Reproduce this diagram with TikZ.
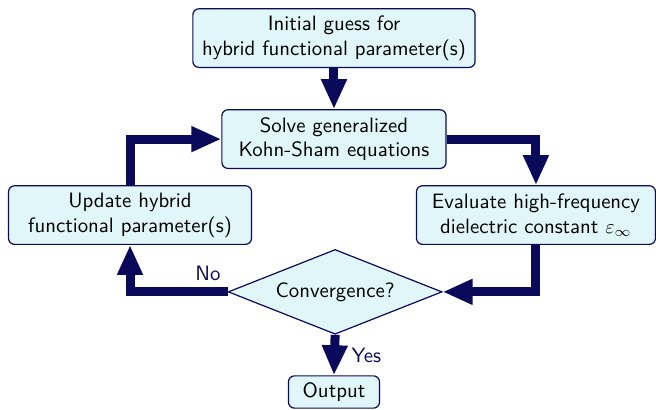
\documentclass[tikz,border=0pt]{standalone}
\usepackage{tikz}
\usetikzlibrary{shapes,arrows.meta,positioning}

\definecolor{flownavy}{RGB}{10,10,90}
\definecolor{flowfill}{RGB}{224,246,248}

\begin{document}
\begin{tikzpicture}[font=\sffamily\fontsize{10.4}{12.4}\selectfont,
    box/.style={draw=flownavy, fill=flowfill, rounded corners=3pt, line width=0.6pt, align=center, minimum height=1.03cm},
    decision/.style={diamond, aspect=2.5, draw=flownavy, fill=flowfill, line width=0.6pt, inner sep=0pt, minimum width=3.76cm, minimum height=1.49cm},
    flow/.style={flownavy, line width=4.5pt, -{Triangle[length=15pt,width=12pt]}},
    flowlabel/.style={text=flownavy}]
    \useasboundingbox (0,0) rectangle (11.53,7.19);
    \node[box, minimum width=4.96cm] (guess) at (5.87,6.52) {Initial guess for\\hybrid functional parameter(s)};
    \node[box, minimum width=3.94cm] (solve) at (5.87,4.745) {Solve generalized\\Kohn-Sham equations};
    \node[box, minimum width=4.27cm] (update) at (2.285,3.41) {Update hybrid\\functional parameter(s)};
    \node[box, minimum width=4.2cm] (eval) at (9.42,3.41) {Evaluate high-frequency\\dielectric constant $\varepsilon_\infty$};
    \node[decision] (conv) at (5.89,2.06) {Convergence?};
    \node[box, minimum width=1.6cm, minimum height=0.53cm] (output) at (5.87,0.3) {Output};

    \draw[flow] (guess) -- (solve);
    \draw[flow] (solve.east) -| (eval.north);
    \draw[flow] (eval.south) |- (conv.east);
    \draw[flow] (conv.west) -| (update.south) node[pos=0.1, above, flowlabel] {No};
    \draw[flow] (update.north) |- (solve.west);
    \draw[flow] (conv.south) -- (output.north) node[midway, right, xshift=3pt, flowlabel] {Yes};
\end{tikzpicture}
\end{document}
